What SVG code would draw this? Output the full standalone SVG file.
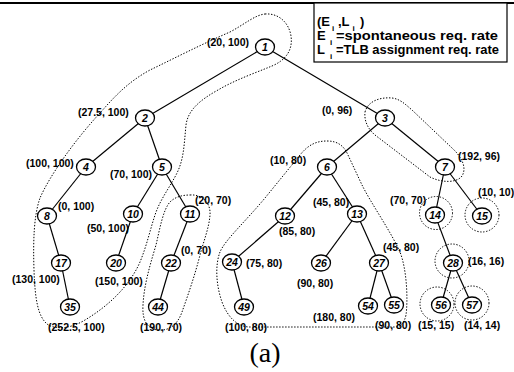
<svg xmlns="http://www.w3.org/2000/svg" width="514" height="372" viewBox="0 0 514 372">
<style>
.bg{fill:#fff}
.edge{stroke:#000;stroke-width:1.2;fill:none}
.region{stroke:#000;stroke-width:1;stroke-dasharray:1.4 1.6;fill:none}
.node ellipse{fill:#fff;stroke:#000;stroke-width:1.3}
.node text{font-family:"Liberation Sans",Arial,sans-serif;font-size:10.5px;font-weight:bold;font-style:italic;text-anchor:middle}
.lbl{font-family:"Liberation Sans",Arial,sans-serif;font-size:10.5px;font-weight:bold}
.leg{font-family:"Liberation Sans",Arial,sans-serif;font-size:13px;font-weight:bold}
.sub{font-family:"Liberation Sans",Arial,sans-serif;font-size:8px;font-weight:bold}
.cap{font-family:"Liberation Serif","Times New Roman",serif;font-size:28px}
</style>
<rect class="bg" x="0" y="0" width="514" height="372"/>
<line x1="0" y1="3" x2="514" y2="3" stroke="#000" stroke-width="1.8"/>
<g id="legend">
<rect x="314" y="3" width="193" height="59" fill="#fff" stroke="#000" stroke-width="1.2"/>
<text class="leg" x="317" y="26">(E</text>
<text class="sub" x="332" y="31">i</text>
<text class="leg" x="338" y="26">,L</text>
<text class="sub" x="352.5" y="31">i</text>
<text class="leg" x="360" y="26">)</text>
<text class="leg" x="317" y="40">E</text>
<text class="sub" x="330" y="45">i</text>
<text class="leg" x="336" y="40" textLength="162" lengthAdjust="spacingAndGlyphs">=spontaneous req. rate</text>
<text class="leg" x="317" y="54">L</text>
<text class="sub" x="330" y="59">i</text>
<text class="leg" x="336" y="54" textLength="163" lengthAdjust="spacingAndGlyphs">=TLB assignment req. rate</text>
</g>
<g id="regions">
<path class="region" d="M 265,14 C 279,13 289,23 291,36 C 293,50 286,60 272,66 C 255,73 235,80 218,90 C 200,100 188,110 186,125 C 184,145 184,160 176,175 C 168,190 160,200 155,215 C 150,230 147,245 140,262 C 130,285 110,305 85,320 C 70,329 55,330 47,324 C 38,316 35,300 34,270 C 33,240 34,215 40,198 C 50,175 75,140 100,113 C 115,96 128,82 150,70 C 175,58 200,45 230,32 C 245,24 255,15 265,14 Z"/>
<path class="region" d="M 190,195 C 202,194 211,203 210,215 C 209,228 204,240 200,255 C 195,275 188,295 182,312 C 177,326 168,331 158,330 C 147,329 142,320 143,305 C 144,285 150,265 156,245 C 160,228 163,210 170,202 C 175,197 182,195 190,195 Z"/>
<path class="region" d="M 365,112 C 368,101 380,97 392,98 C 400,99 405,104 412,110 L 452,148 C 462,157 467,168 462,176 C 457,183 442,183 430,177 L 375,135 C 368,129 364,121 365,112 Z"/>
<path class="region" d="M 327,141 C 338,141 344,146 348,155 L 362,185 C 372,205 390,230 400,252 C 407,270 408,300 406,315 C 404,324 400,327 395,327 L 250,327 C 238,327 228,318 222,302 C 216,285 215,265 220,252 C 225,240 245,222 265,198 L 300,155 C 308,145 316,141 327,141 Z"/>
<circle class="region" cx="436" cy="213" r="16.5"/>
<circle class="region" cx="482" cy="215" r="17"/>
<circle class="region" cx="452" cy="261" r="17"/>
<circle class="region" cx="437" cy="304" r="17"/>
<circle class="region" cx="472" cy="303" r="17"/>
</g>
<g id="connectors">
<line class="edge" x1="265" y1="47" x2="145" y2="118"/>
<line class="edge" x1="265" y1="47" x2="385" y2="118"/>
<line class="edge" x1="145" y1="118" x2="86" y2="167"/>
<line class="edge" x1="145" y1="118" x2="162" y2="167"/>
<line class="edge" x1="385" y1="118" x2="327" y2="167"/>
<line class="edge" x1="385" y1="118" x2="445" y2="167"/>
<line class="edge" x1="86" y1="167" x2="47" y2="216"/>
<line class="edge" x1="162" y1="167" x2="133" y2="214"/>
<line class="edge" x1="162" y1="167" x2="190" y2="214"/>
<line class="edge" x1="327" y1="167" x2="285" y2="216"/>
<line class="edge" x1="327" y1="167" x2="357" y2="214"/>
<line class="edge" x1="445" y1="167" x2="435" y2="215"/>
<line class="edge" x1="445" y1="167" x2="482" y2="216"/>
<line class="edge" x1="47" y1="216" x2="61" y2="263"/>
<line class="edge" x1="133" y1="214" x2="116" y2="263"/>
<line class="edge" x1="190" y1="214" x2="171" y2="263"/>
<line class="edge" x1="285" y1="216" x2="232" y2="262"/>
<line class="edge" x1="357" y1="214" x2="321" y2="263"/>
<line class="edge" x1="357" y1="214" x2="379" y2="263"/>
<line class="edge" x1="435" y1="215" x2="453" y2="263"/>
<line class="edge" x1="61" y1="263" x2="70" y2="307"/>
<line class="edge" x1="171" y1="263" x2="158" y2="307"/>
<line class="edge" x1="232" y1="262" x2="244" y2="307"/>
<line class="edge" x1="379" y1="263" x2="368" y2="306"/>
<line class="edge" x1="379" y1="263" x2="394" y2="305"/>
<line class="edge" x1="453" y1="263" x2="441" y2="305"/>
<line class="edge" x1="453" y1="263" x2="472" y2="305"/>
</g>
<g id="n1" class="node"><ellipse cx="265" cy="47" rx="9.5" ry="8"/><text x="265" y="51">1</text></g>
<g id="n2" class="node"><ellipse cx="145" cy="118" rx="9.5" ry="8"/><text x="145" y="122">2</text></g>
<g id="n3" class="node"><ellipse cx="385" cy="118" rx="9.5" ry="8"/><text x="385" y="122">3</text></g>
<g id="n4" class="node"><ellipse cx="86" cy="167" rx="9.5" ry="8"/><text x="86" y="171">4</text></g>
<g id="n5" class="node"><ellipse cx="162" cy="167" rx="9.5" ry="8"/><text x="162" y="171">5</text></g>
<g id="n6" class="node"><ellipse cx="327" cy="167" rx="9.5" ry="8"/><text x="327" y="171">6</text></g>
<g id="n7" class="node"><ellipse cx="445" cy="167" rx="9.5" ry="8"/><text x="445" y="171">7</text></g>
<g id="n8" class="node"><ellipse cx="47" cy="216" rx="9.5" ry="8"/><text x="47" y="220">8</text></g>
<g id="n10" class="node"><ellipse cx="133" cy="214" rx="9.5" ry="8"/><text x="133" y="218">10</text></g>
<g id="n11" class="node"><ellipse cx="190" cy="214" rx="9.5" ry="8"/><text x="190" y="218">11</text></g>
<g id="n12" class="node"><ellipse cx="285" cy="216" rx="9.5" ry="8"/><text x="285" y="220">12</text></g>
<g id="n13" class="node"><ellipse cx="357" cy="214" rx="9.5" ry="8"/><text x="357" y="218">13</text></g>
<g id="n14" class="node"><ellipse cx="435" cy="215" rx="9.5" ry="8"/><text x="435" y="219">14</text></g>
<g id="n15" class="node"><ellipse cx="482" cy="216" rx="9.5" ry="8"/><text x="482" y="220">15</text></g>
<g id="n17" class="node"><ellipse cx="61" cy="263" rx="9.5" ry="8"/><text x="61" y="267">17</text></g>
<g id="n20" class="node"><ellipse cx="116" cy="263" rx="9.5" ry="8"/><text x="116" y="267">20</text></g>
<g id="n22" class="node"><ellipse cx="171" cy="263" rx="9.5" ry="8"/><text x="171" y="267">22</text></g>
<g id="n24" class="node"><ellipse cx="232" cy="262" rx="9.5" ry="8"/><text x="232" y="266">24</text></g>
<g id="n26" class="node"><ellipse cx="321" cy="263" rx="9.5" ry="8"/><text x="321" y="267">26</text></g>
<g id="n27" class="node"><ellipse cx="379" cy="263" rx="9.5" ry="8"/><text x="379" y="267">27</text></g>
<g id="n28" class="node"><ellipse cx="453" cy="263" rx="9.5" ry="8"/><text x="453" y="267">28</text></g>
<g id="n35" class="node"><ellipse cx="70" cy="307" rx="9.5" ry="8"/><text x="70" y="311">35</text></g>
<g id="n44" class="node"><ellipse cx="158" cy="307" rx="9.5" ry="8"/><text x="158" y="311">44</text></g>
<g id="n49" class="node"><ellipse cx="244" cy="307" rx="9.5" ry="8"/><text x="244" y="311">49</text></g>
<g id="n54" class="node"><ellipse cx="368" cy="306" rx="9.5" ry="8"/><text x="368" y="310">54</text></g>
<g id="n55" class="node"><ellipse cx="394" cy="305" rx="9.5" ry="8"/><text x="394" y="309">55</text></g>
<g id="n56" class="node"><ellipse cx="441" cy="305" rx="9.5" ry="8"/><text x="441" y="309">56</text></g>
<g id="n57" class="node"><ellipse cx="472" cy="305" rx="9.5" ry="8"/><text x="472" y="309">57</text></g>
<g id="labels" class="lbl">
<text x="207" y="46">(20, 100)</text>
<text x="78" y="116">(27.5, 100)</text>
<text x="322" y="114">(0, 96)</text>
<text x="26" y="167">(100, 100)</text>
<text x="110" y="178">(70, 100)</text>
<text x="58" y="210">(0, 100)</text>
<text x="195" y="204">(20, 70)</text>
<text x="87" y="232">(50, 100)</text>
<text x="181" y="254">(0, 70)</text>
<text x="12" y="283">(130, 100)</text>
<text x="95" y="285">(150, 100)</text>
<text x="48" y="331">(252.5, 100)</text>
<text x="140" y="331">(190, 70)</text>
<text x="225" y="331">(100, 80)</text>
<text x="270" y="164">(10, 80)</text>
<text x="458" y="160">(192, 96)</text>
<text x="313" y="206">(45, 80)</text>
<text x="390" y="204">(70, 70)</text>
<text x="478" y="196">(10, 10)</text>
<text x="279" y="235">(85, 80)</text>
<text x="383" y="251">(45, 80)</text>
<text x="246" y="267">(75, 80)</text>
<text x="297" y="287">(90, 80)</text>
<text x="468" y="265">(16, 16)</text>
<text x="313" y="321">(180, 80)</text>
<text x="375" y="329">(90, 80)</text>
<text x="418" y="329">(15, 15)</text>
<text x="464" y="329">(14, 14)</text>
</g>
<text class="cap" x="265" y="362" text-anchor="middle">(a)</text>
</svg>
